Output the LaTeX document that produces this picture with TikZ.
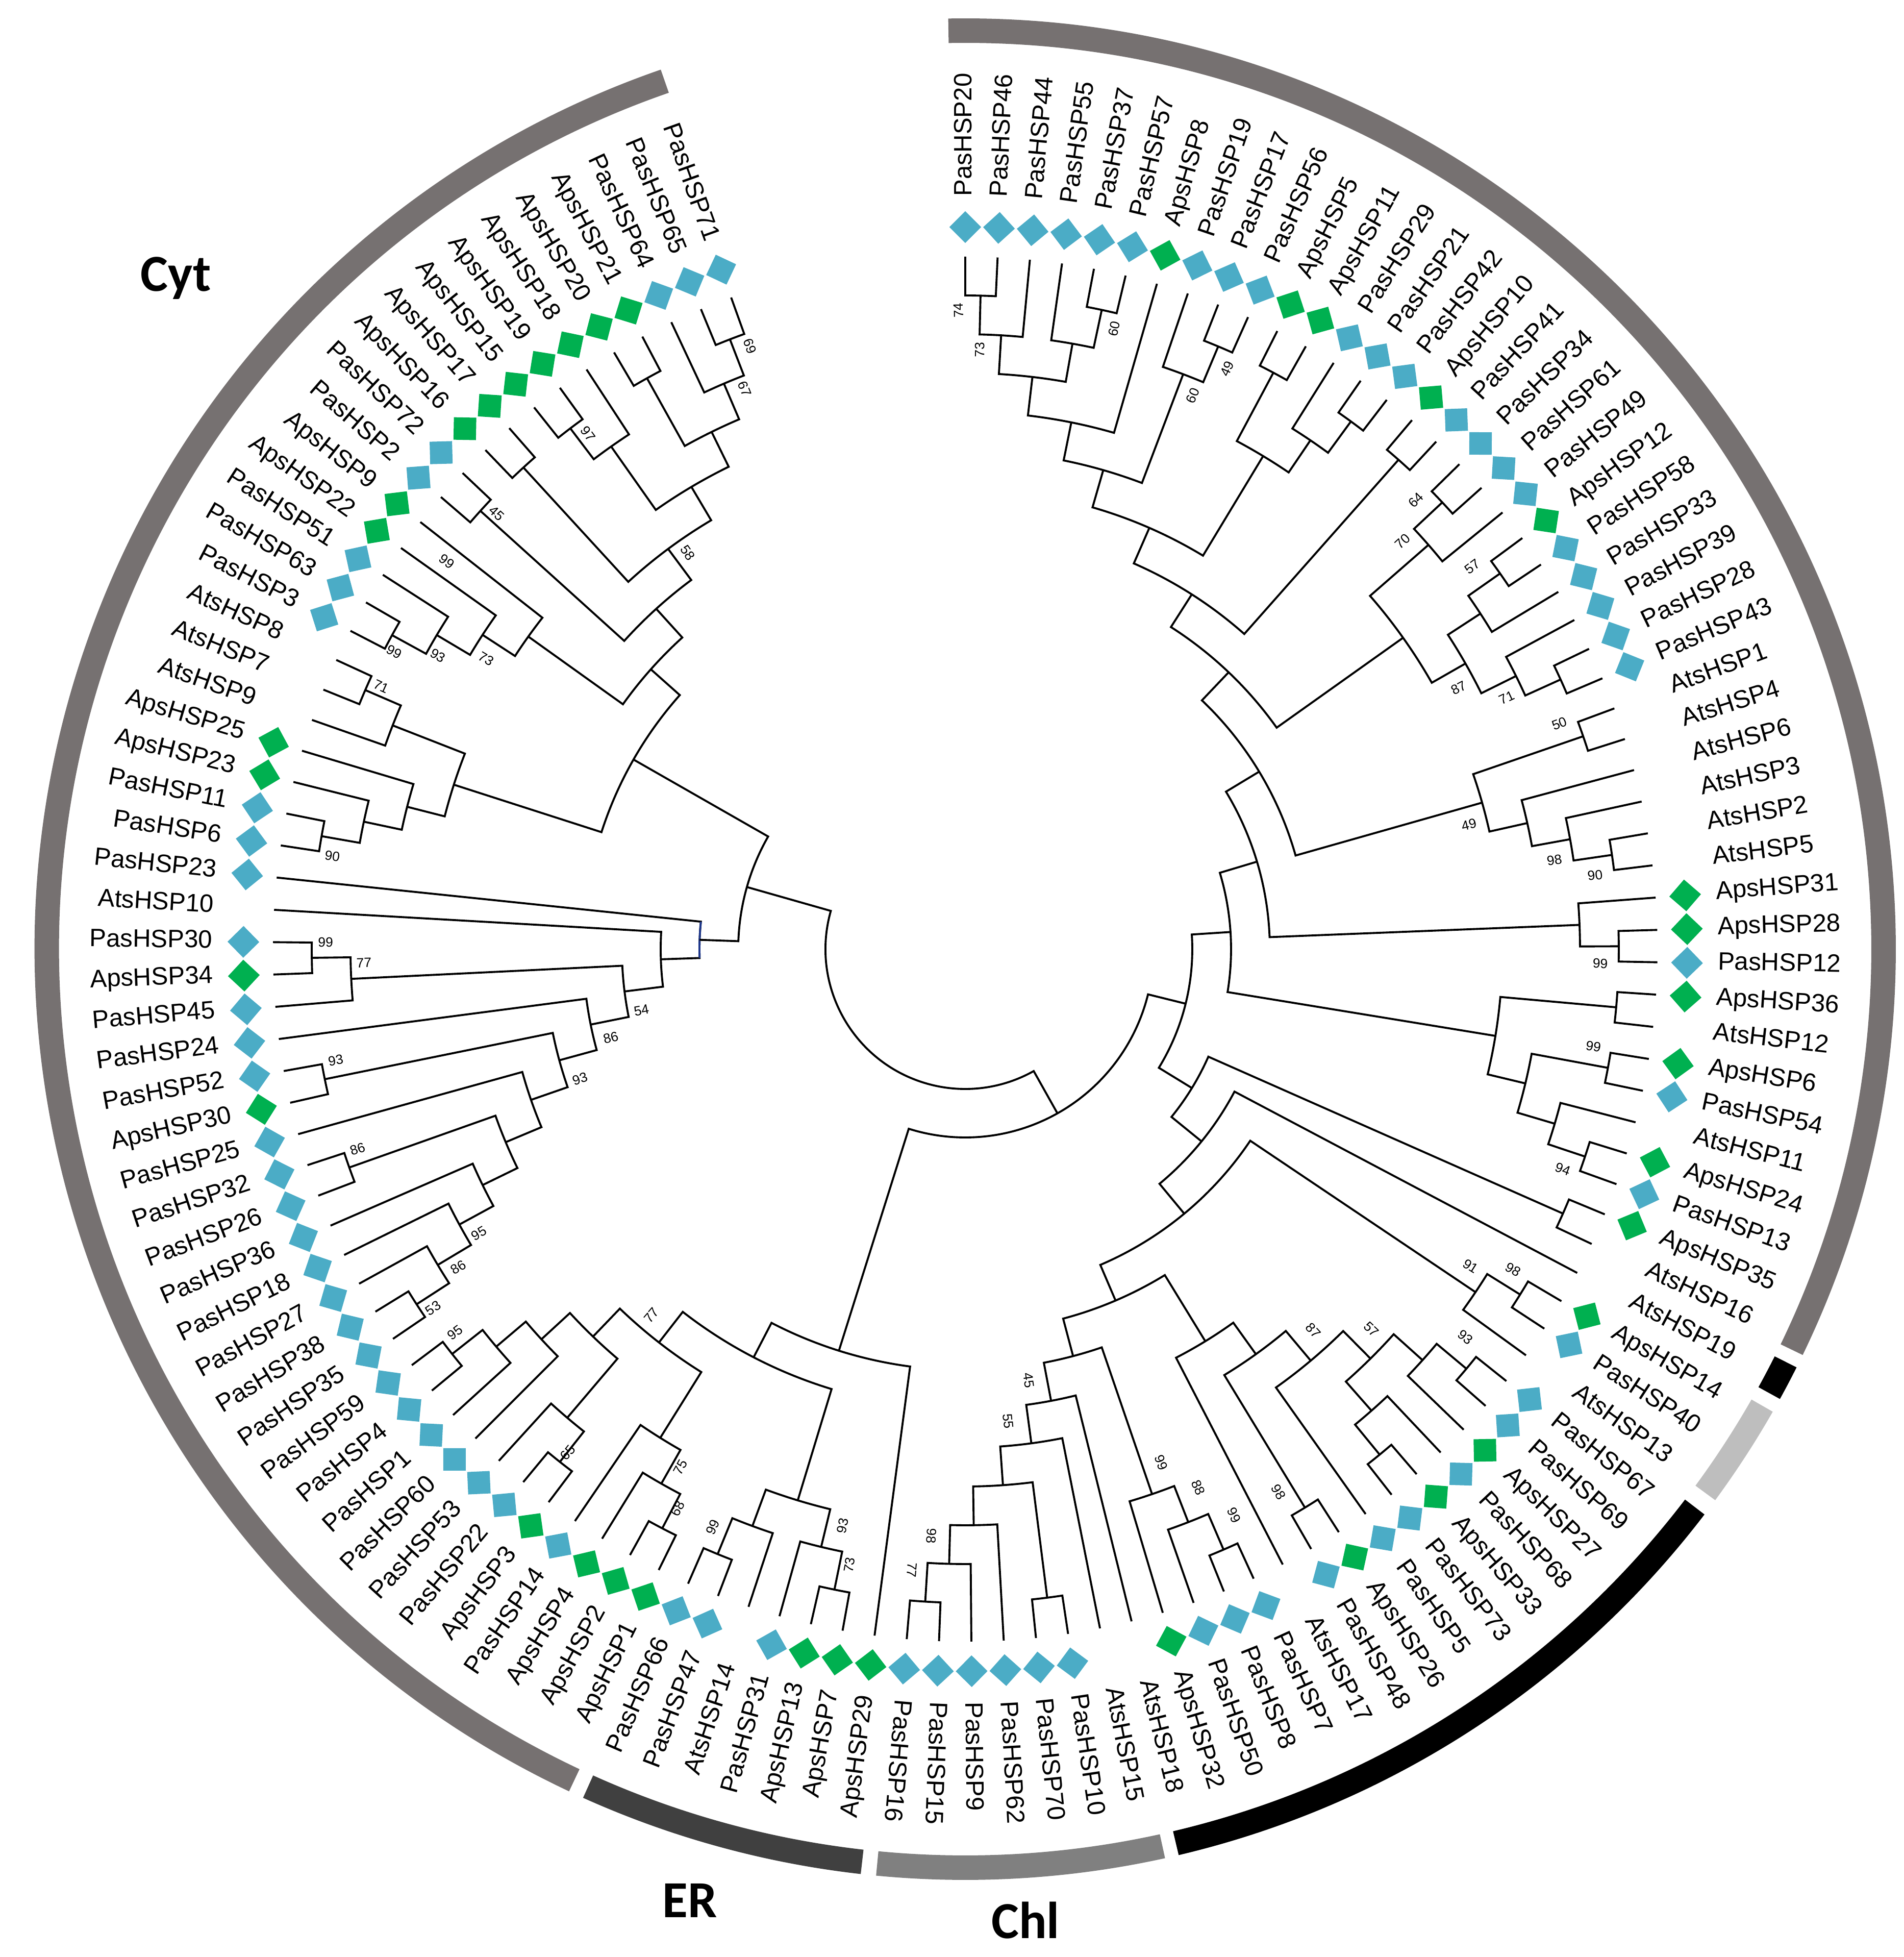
\documentclass[tikz,border=0pt]{standalone}
\usepackage{fontspec}
\setmainfont{Liberation Sans}
\newfontfamily\regfont{Carlito}
\definecolor{blu}{RGB}{75,172,198}
\definecolor{grn}{RGB}{0,176,80}
\definecolor{cytgray}{RGB}{118,113,113}
\definecolor{ergray}{RGB}{64,64,64}
\definecolor{chlgray}{RGB}{128,128,128}
\definecolor{ltgray}{RGB}{190,190,190}
\definecolor{navyline}{RGB}{31,56,140}
\tikzset{
  tree/.style={line width=1.1pt, line join=miter},
  lab/.style={inner sep=0pt, font=\fontsize{14}{16}\selectfont, text height=10pt, text depth=3pt},
  dia/.style={rectangle, inner sep=0pt, minimum size=0.44cm, draw=none},
  bsl/.style={inner sep=0pt, font=\fontsize{7.5}{9}\selectfont},
  reg/.style={inner sep=0pt, font=\regfont\bfseries\fontsize{29}{32}\selectfont},
  ringseg/.style={line width=0.48cm},
}
\newcommand\setang[2]{\expandafter\xdef\csname ta@#1\endcsname{#2}}
\newcommand\setrad[2]{\expandafter\xdef\csname tr@#1\endcsname{#2}}
\newcommand\getang[1]{\csname ta@#1\endcsname}
\newcommand\getrad[1]{\csname tr@#1\endcsname}
% internal node with explicit radius
\newcommand\ndr[4]{%
  \edef\tca{\getang{#3}}\edef\tcb{\getang{#4}}%
  \edef\tcra{\getrad{#3}}\edef\tcrb{\getrad{#4}}%
  \pgfmathsetmacro\tmm{(\tca+\tcb)/2}%
  \draw[tree] (\tca:\tcra) -- (\tca:#2) arc[start angle=\tca, end angle=\tcb, radius=#2 cm] -- (\tcb:\tcrb);
  \coordinate (#1) at (\tmm:#2);
  \setang{#1}{\tmm}\setrad{#1}{#2}%
}
% internal node at level k
\newcommand\nd[4]{\pgfmathsetmacro\trk{13.57-0.76*#2}\ndr{#1}{\trk}{#3}{#4}}
% leaf: index, text, type (b/g/n)
\newcommand\leaf[3]{%
  \pgfmathsetmacro\la{90-(#1-1)*2.679}%
  \setang{L#1}{\la}\setrad{L#1}{13.57}%
  \coordinate (L#1) at (\la:13.57);
  \ifnum#1<71
    \node[lab, anchor=west, rotate=\la] (t#1) at (\la:14.75) {#2};
  \else
    \node[lab, anchor=east, rotate=\la+180] (t#1) at (\la:14.75) {#2};
  \fi
  \if b#3\node[dia, fill=blu, rotate=\la+45] (d#1) at (\la:14.15) {};\fi
  \if g#3\node[dia, fill=grn, rotate=\la+45] (d#1) at (\la:14.15) {};\fi
}
% bootstrap label: name, angle, radius(px), text
\newcommand\bs[4]{%
  \pgfmathtruncatemacro\bsd{(#2>95)||(#2<-96)}%
  \pgfmathsetmacro\brr{#3/100}%
  \ifnum\bsd=1
    \node[bsl, rotate=#2+180] (#1) at (#2:\brr) {#4};
  \else
    \node[bsl, rotate=#2] (#1) at (#2:\brr) {#4};
  \fi
}
\newcommand\ringarc[3]{\draw[ringseg, draw=#3] (#1:18.0) arc[start angle=#1, end angle=#2, radius=18.0cm];}

\begin{document}
\begin{tikzpicture}
\useasboundingbox (-18.92,-19.75) rectangle (18.39,18.60);
\fill[white] (-18.92,-19.75) rectangle (18.39,18.60);

% ---------------- leaves ----------------
\leaf{1}{PasHSP20}{b}\leaf{2}{PasHSP46}{b}\leaf{3}{PasHSP44}{b}\leaf{4}{PasHSP55}{b}
\leaf{5}{PasHSP37}{b}\leaf{6}{PasHSP57}{b}\leaf{7}{ApsHSP8}{g}\leaf{8}{PasHSP19}{b}
\leaf{9}{PasHSP17}{b}\leaf{10}{PasHSP56}{b}\leaf{11}{ApsHSP5}{g}\leaf{12}{ApsHSP11}{g}
\leaf{13}{PasHSP29}{b}\leaf{14}{PasHSP21}{b}\leaf{15}{PasHSP42}{b}\leaf{16}{ApsHSP10}{g}
\leaf{17}{PasHSP41}{b}\leaf{18}{PasHSP34}{b}\leaf{19}{PasHSP61}{b}\leaf{20}{PasHSP49}{b}
\leaf{21}{ApsHSP12}{g}\leaf{22}{PasHSP58}{b}\leaf{23}{PasHSP33}{b}\leaf{24}{PasHSP39}{b}
\leaf{25}{PasHSP28}{b}\leaf{26}{PasHSP43}{b}\leaf{27}{AtsHSP1}{n}\leaf{28}{AtsHSP4}{n}
\leaf{29}{AtsHSP6}{n}\leaf{30}{AtsHSP3}{n}\leaf{31}{AtsHSP2}{n}\leaf{32}{AtsHSP5}{n}
\leaf{33}{ApsHSP31}{g}\leaf{34}{ApsHSP28}{g}\leaf{35}{PasHSP12}{b}\leaf{36}{ApsHSP36}{g}
\leaf{37}{AtsHSP12}{n}\leaf{38}{ApsHSP6}{g}\leaf{39}{PasHSP54}{b}\leaf{40}{AtsHSP11}{n}
\leaf{41}{ApsHSP24}{g}\leaf{42}{PasHSP13}{b}\leaf{43}{ApsHSP35}{g}\leaf{44}{AtsHSP16}{n}
\leaf{45}{AtsHSP19}{n}\leaf{46}{ApsHSP14}{g}\leaf{47}{PasHSP40}{b}\leaf{48}{AtsHSP13}{n}
\leaf{49}{PasHSP67}{b}\leaf{50}{PasHSP69}{b}\leaf{51}{ApsHSP27}{g}\leaf{52}{PasHSP68}{b}
\leaf{53}{ApsHSP33}{g}\leaf{54}{PasHSP73}{b}\leaf{55}{PasHSP5}{b}\leaf{56}{ApsHSP26}{g}
\leaf{57}{PasHSP48}{b}\leaf{58}{AtsHSP17}{n}\leaf{59}{PasHSP7}{b}\leaf{60}{PasHSP8}{b}
\leaf{61}{PasHSP50}{b}\leaf{62}{ApsHSP32}{g}\leaf{63}{AtsHSP18}{n}\leaf{64}{AtsHSP15}{n}
\leaf{65}{PasHSP10}{b}\leaf{66}{PasHSP70}{b}\leaf{67}{PasHSP62}{b}\leaf{68}{PasHSP9}{b}
\leaf{69}{PasHSP15}{b}\leaf{70}{PasHSP16}{b}\leaf{71}{ApsHSP29}{g}\leaf{72}{ApsHSP7}{g}
\leaf{73}{ApsHSP13}{g}\leaf{74}{PasHSP31}{b}\leaf{75}{AtsHSP14}{n}\leaf{76}{PasHSP47}{b}
\leaf{77}{PasHSP66}{b}\leaf{78}{ApsHSP1}{g}\leaf{79}{ApsHSP2}{g}\leaf{80}{ApsHSP4}{g}
\leaf{81}{PasHSP14}{b}\leaf{82}{ApsHSP3}{g}\leaf{83}{PasHSP22}{b}\leaf{84}{PasHSP53}{b}
\leaf{85}{PasHSP60}{b}\leaf{86}{PasHSP1}{b}\leaf{87}{PasHSP4}{b}\leaf{88}{PasHSP59}{b}
\leaf{89}{PasHSP35}{b}\leaf{90}{PasHSP38}{b}\leaf{91}{PasHSP27}{b}\leaf{92}{PasHSP18}{b}
\leaf{93}{PasHSP36}{b}\leaf{94}{PasHSP26}{b}\leaf{95}{PasHSP32}{b}\leaf{96}{PasHSP25}{b}
\leaf{97}{ApsHSP30}{g}\leaf{98}{PasHSP52}{b}\leaf{99}{PasHSP24}{b}\leaf{100}{PasHSP45}{b}
\leaf{101}{ApsHSP34}{g}\leaf{102}{PasHSP30}{b}\leaf{103}{AtsHSP10}{n}\leaf{104}{PasHSP23}{b}
\leaf{105}{PasHSP6}{b}\leaf{106}{PasHSP11}{b}\leaf{107}{ApsHSP23}{g}\leaf{108}{ApsHSP25}{g}
\leaf{109}{AtsHSP9}{n}\leaf{110}{AtsHSP7}{n}\leaf{111}{AtsHSP8}{n}\leaf{112}{PasHSP3}{b}
\leaf{113}{PasHSP63}{b}\leaf{114}{PasHSP51}{b}\leaf{115}{ApsHSP22}{g}\leaf{116}{ApsHSP9}{g}
\leaf{117}{PasHSP2}{b}\leaf{118}{PasHSP72}{b}\leaf{119}{ApsHSP16}{g}\leaf{120}{ApsHSP17}{g}
\leaf{121}{ApsHSP15}{g}\leaf{122}{ApsHSP19}{g}\leaf{123}{ApsHSP18}{g}\leaf{124}{ApsHSP20}{g}
\leaf{125}{ApsHSP21}{g}\leaf{126}{PasHSP64}{b}\leaf{127}{PasHSP65}{b}\leaf{128}{PasHSP71}{b}

% ---------------- tree ----------------
\nd{n1}{1}{L1}{L2}\nd{n2}{2}{n1}{L3}\nd{n3}{1}{L5}{L6}\nd{n4}{2}{L4}{n3}
\nd{n5}{3}{n2}{n4}\nd{n6}{4}{n5}{L7}\nd{n7}{1}{L9}{L10}\nd{n8}{2}{L8}{n7}
\nd{n9}{5}{n6}{n8}\nd{n10}{1}{L11}{L12}\nd{n11}{1}{L14}{L15}\nd{n12}{2}{L13}{n11}
\nd{n13}{3}{n10}{n12}\nd{n14}{6}{n9}{n13}\nd{n15}{1}{L16}{L17}\nd{n16}{7}{n14}{n15}
\nd{n17}{1}{L18}{L19}\nd{n18}{2}{n17}{L20}\nd{n19}{1}{L21}{L22}\nd{n20}{2}{n19}{L23}
\nd{n21}{1}{L25}{L26}\nd{n22}{2}{L24}{n21}\nd{n23}{3}{n20}{n22}\nd{n24}{4}{n18}{n23}
\nd{n25}{8}{n16}{n24}
\nd{n26}{1}{L27}{L28}\nd{n27}{1}{L31}{L32}\nd{n28}{2}{L30}{n27}\nd{n29}{3}{L29}{n28}
\nd{n30}{4}{n26}{n29}\nd{n31}{9}{n25}{n30}
\nd{n32}{1}{L34}{L35}\nd{n33}{2}{L33}{n32}\nd{n34}{10}{n31}{n33}
\nd{n35}{1}{L36}{L37}\nd{n36}{1}{L38}{L39}\nd{n37}{1}{L41}{L42}\nd{n38}{2}{L40}{n37}
\nd{n39}{3}{n36}{n38}\nd{n40}{4}{n35}{n39}\nd{n41}{11}{n34}{n40}
\nd{n42}{1}{L43}{L44}\nd{n43}{1}{L46}{L47}\nd{n44}{2}{n43}{L48}
\nd{n45}{1}{L49}{L50}\nd{n46}{2}{L51}{n45}\nd{n47}{1}{L53}{L54}\nd{n48}{2}{L52}{n47}
\nd{n49}{3}{n48}{n46}\nd{n50}{4}{L55}{n49}\nd{n51}{1}{L56}{L57}\nd{n52}{5}{n51}{n50}
\nd{n53}{6}{L58}{n52}
\nd{n54}{1}{L59}{L60}\nd{n55}{2}{n54}{L61}\nd{n56}{3}{n55}{L62}
\nd{n57}{1}{L69}{L70}\nd{n58}{2}{n57}{L68}\nd{n59}{3}{n58}{L67}\nd{n60}{1}{L65}{L66}
\nd{n61}{4}{n59}{n60}\nd{n62}{5}{n61}{L64}\nd{n63}{6}{n62}{L63}
\nd{n64}{7}{n63}{n56}\nd{n65}{8}{n64}{n53}\nd{n66}{9}{n44}{n65}
\nd{n67}{10}{L45}{n66}\nd{n68}{11}{n42}{n67}\nd{n69}{12}{n41}{n68}
\nd{n70}{1}{L76}{L77}\nd{n71}{2}{n70}{L75}\nd{n72}{1}{L72}{L73}\nd{n73}{2}{L74}{n72}
\nd{n74}{3}{n71}{n73}\nd{n75}{1}{L78}{L79}\nd{n76}{2}{L80}{n75}\nd{n77}{3}{L81}{n76}
\nd{n78}{1}{L82}{L83}\nd{n79}{2}{L84}{n78}\nd{n80}{1}{L87}{L88}\nd{n81}{2}{n80}{L86}
\nd{n82}{3}{n81}{L85}\nd{n83}{4}{n82}{n79}\nd{n84}{5}{n83}{n77}\nd{n85}{6}{n84}{n74}
\nd{n86}{7}{n85}{L71}\nd{n87}{13}{n69}{n86}
\nd{n88}{1}{L89}{L90}\nd{n89}{2}{L91}{n88}\nd{n90}{3}{L92}{n89}\nd{n91}{4}{L93}{n90}
\nd{n92}{1}{L94}{L95}\nd{n93}{5}{n92}{n91}\nd{n94}{6}{L96}{n93}\nd{n95}{1}{L97}{L98}
\nd{n96}{7}{n95}{n94}\nd{n97}{8}{L99}{n96}\nd{n98}{1}{L101}{L102}\nd{n99}{2}{n98}{L100}
\nd{n100}{9}{n99}{n97}\nd{n101}{10}{L103}{n100}\nd{n102}{11}{L104}{n101}
\edef\tca{\getang{L104}}\edef\tcb{\getang{n101}}
\draw[tree, navyline] (\tca:5.21) arc[start angle=\tca, end angle=\tcb, radius=5.21cm];
\nd{n103}{1}{L105}{L106}\nd{n104}{2}{L107}{n103}\nd{n105}{3}{L108}{n104}
\nd{n106}{1}{L110}{L111}\nd{n107}{2}{L109}{n106}\nd{n108}{4}{n105}{n107}
\nd{n109}{1}{L112}{L113}\nd{n110}{2}{n109}{L114}\nd{n111}{3}{n110}{L115}\nd{n112}{4}{n111}{L116}
\nd{n113}{1}{L117}{L118}\nd{n114}{1}{L119}{L120}\nd{n115}{1}{L121}{L122}\nd{n116}{2}{n115}{L123}
\nd{n117}{1}{L124}{L125}\nd{n118}{1}{L127}{L128}\nd{n119}{2}{L126}{n118}\nd{n120}{3}{n117}{n119}
\nd{n121}{4}{n116}{n120}\nd{n122}{5}{n114}{n121}\nd{n123}{6}{n113}{n122}\nd{n124}{7}{n112}{n123}
\nd{n125}{8}{n108}{n124}\nd{n126}{12}{n125}{n102}
\ndr{root}{2.74}{n126}{n87}

% ---------------- bootstrap values ----------------
\bs{b1}{90.6}{1252}{74}\bs{b2}{88.6}{1175}{73}\bs{b3}{76.5}{1250}{60}\bs{b4}{65.7}{1248}{49}
\bs{b5}{67.65}{1173}{60}\bs{b6}{44.9}{1247}{64}\bs{b7}{43.0}{1172}{70}\bs{b8}{37.0}{1245}{57}
\bs{b9}{27.9}{1094}{87}\bs{b10}{24.9}{1170}{71}\bs{b11}{20.8}{1246}{50}\bs{b12}{13.9}{1017}{49}
\bs{b13}{8.6}{1168}{98}\bs{b14}{6.7}{1243}{90}\bs{b15}{-1.3}{1245}{99}\bs{b16}{-8.8}{1246}{99}
\bs{b17}{-20.2}{1248}{94}\bs{b18}{-32.1}{1169}{91}\bs{b19}{-30.3}{1244}{98}\bs{b20}{-47.6}{1012}{87}
\bs{b21}{-43.1}{1090}{57}\bs{b22}{-37.8}{1241}{93}\bs{b23}{-60.0}{1228}{98}\bs{b24}{-64.6}{1228}{99}
\bs{b25}{-66.6}{1150}{88}\bs{b26}{-69.1}{1077}{99}\bs{b27}{-81.65}{854}{45}\bs{b28}{-84.8}{929}{55}
\bs{b29}{-93.3}{1152}{98}\bs{b30}{-94.9}{1221}{77}\bs{b31}{258.0}{1155}{93}\bs{b32}{259.35}{1228}{73}
\bs{b33}{246.4}{1236}{99}\bs{b34}{242.8}{1233}{68}\bs{b35}{241.2}{1159}{75}\bs{b36}{231.7}{1257}{65}
\bs{b37}{229.4}{945}{77}\bs{b38}{216.9}{1251}{95}\bs{b39}{214.0}{1258}{53}\bs{b40}{212.1}{1173}{86}
\bs{b41}{210.3}{1104}{95}\bs{b42}{198.2}{1254}{86}\bs{b43}{190.0}{1253}{93}\bs{b44}{198.6}{797}{93}
\bs{b45}{194.0}{716}{86}\bs{b46}{190.7}{646}{54}\bs{b47}{181.3}{1179}{77}\bs{b48}{179.4}{1254}{99}
\bs{b49}{171.65}{1254}{90}\bs{b50}{155.8}{1255}{71}\bs{b51}{152.5}{1262}{99}\bs{b52}{150.9}{1183}{93}
\bs{b53}{148.8}{1098}{73}\bs{b54}{143.2}{1269}{99}\bs{b55}{137.1}{1254}{45}\bs{b56}{126.2}{1252}{97}
\bs{b57}{125.0}{948}{58}\bs{b58}{109.65}{1255}{69}\bs{b59}{111.5}{1180}{67}

% ---------------- outer ring ----------------
\ringarc{91.05}{-25.85}{cytgray}
\ringarc{-26.7}{-28.9}{black}
\ringarc{-29.8}{-36.3}{ltgray}
\ringarc{-37.4}{-76.74}{black}
\ringarc{-77.6}{-95.5}{chlgray}
\ringarc{-96.45}{-114.25}{ergray}
\ringarc{-115.2}{-250.9}{cytgray}

\node[reg, anchor=base] (cyt) at (-15.47,12.89) {Cyt};
\node[reg, anchor=base] (er) at (-5.40,-18.97) {ER};
\node[reg, anchor=base] (chl) at (1.18,-19.38) {Chl};
\end{tikzpicture}
\end{document}
